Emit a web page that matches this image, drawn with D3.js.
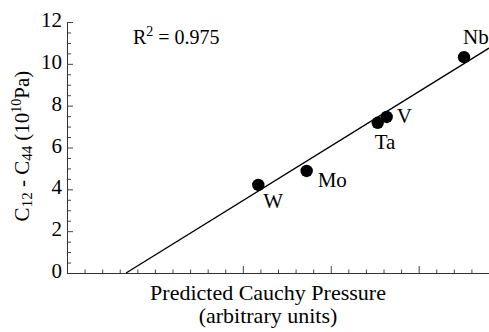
<!DOCTYPE html>
<html>
<head>
<meta charset="utf-8">
<script src="https://cdn.jsdelivr.net/npm/d3@7.9.0/dist/d3.min.js"></script>
<style>
  html, body { margin: 0; padding: 0; background: #fff; }
  svg text { font-family: "Liberation Serif", "Times New Roman", serif !important; fill: #000; }
  .tick line { stroke: #444; }
  .domain { stroke: #333; }
</style>
</head>
<body>
<svg width="489" height="332"></svg>
<script>
// metals and their values
const metals = ["Nb", "V", "Ta", "W", "Mo"];
const predicted = [2.258, 1.818, 1.767, 1.088, 1.363];   // arbitrary units
const c12MinusC44 = [10.32, 7.46, 7.18, 4.21, 4.88];    // 10^10 Pa

const yMajorTicks = [0, 2, 4, 6, 8, 10, 12];
const xMajorTicks = [1, 1.5, 2];
const fitSlope = 5.21;
const fitIntercept = -1.75;
const rSquared = "0.975";

// where each label sits relative to its dot
const labelOffset = {
  Nb: [-1, -13],
  V: [10, 6],
  Ta: [-3, 26],
  W: [5, 23],
  Mo: [11, 16]
};

const svg = d3.select("svg");

const x = d3.scaleLinear().domain([0, 2.4]).range([67, 489]);
const y = d3.scaleLinear().domain([0, 12]).range([273, 22]);

// y axis: minor then major ticks, pointing inward
svg.append("g")
  .attr("transform", `translate(${x(0)},0)`)
  .call(d3.axisLeft(y)
    .tickValues(d3.range(0, 12.01, 0.5).filter(v => v % 2 !== 0))
    .tickSize(-4).tickFormat(""))
  .call(g => g.select(".domain").remove());

svg.append("g")
  .attr("transform", `translate(${x(0)},0)`)
  .call(d3.axisLeft(y).tickValues(yMajorTicks).tickSize(-6).tickSizeOuter(0).tickPadding(5))
  .call(g => g.selectAll("text")
    .attr("font-size", 21)
    .attr("dy", "0.22em"));

// x axis
svg.append("g")
  .attr("transform", `translate(0,${y(0)})`)
  .call(d3.axisBottom(x)
    .tickValues(d3.range(0.1, 2.4, 0.1).filter(v => !xMajorTicks.some(m => Math.abs(m - v) < 1e-6)))
    .tickSize(-3.5).tickFormat(""))
  .call(g => g.select(".domain").remove());

svg.append("g")
  .attr("transform", `translate(0,${y(0)})`)
  .call(d3.axisBottom(x).tickValues(xMajorTicks).tickSize(-7).tickSizeOuter(0).tickFormat(""));

// fitted line
const xStart = -fitIntercept / fitSlope;
const xEnd = 2.4;
svg.append("line")
  .attr("x1", x(xStart)).attr("y1", y(fitSlope * xStart + fitIntercept))
  .attr("x2", x(xEnd)).attr("y2", y(fitSlope * xEnd + fitIntercept))
  .attr("stroke", "#000")
  .attr("stroke-width", 1.4);

// dots
const pts = metals.map((m, i) => ({ name: m, px: predicted[i], py: c12MinusC44[i] }));

svg.selectAll("circle.dot")
  .data(pts)
  .join("circle")
  .attr("class", "dot")
  .attr("cx", d => x(d.px))
  .attr("cy", d => y(d.py))
  .attr("r", 6.2)
  .attr("fill", "#000");

svg.selectAll("text.metal")
  .data(pts)
  .join("text")
  .attr("class", "metal")
  .attr("x", d => x(d.px) + labelOffset[d.name][0])
  .attr("y", d => y(d.py) + labelOffset[d.name][1])
  .attr("font-size", 21)
  .text(d => d.name);

// R^2 annotation
const r2 = svg.append("text")
  .attr("x", 133)
  .attr("y", 44)
  .attr("font-size", 20);
r2.append("tspan").text("R");
r2.append("tspan").attr("font-size", 14).attr("dy", -8).text("2");
r2.append("tspan").attr("dy", 8).text(" = " + rSquared);

// y axis title
const yt = svg.append("text")
  .attr("transform", "translate(29,146) rotate(-90)")
  .attr("text-anchor", "middle")
  .attr("font-size", 21);
yt.append("tspan").text("C");
yt.append("tspan").attr("font-size", 15).attr("dy", 3).text("12");
yt.append("tspan").attr("dy", -3).text(" - C");
yt.append("tspan").attr("font-size", 15).attr("dy", 3).text("44");
yt.append("tspan").attr("dy", -3).text(" (10");
yt.append("tspan").attr("font-size", 14).attr("dy", -8).text("10");
yt.append("tspan").attr("dy", 8).text("Pa)");

// x axis title
svg.append("text")
  .attr("x", 268).attr("y", 300)
  .attr("text-anchor", "middle")
  .attr("font-size", 22)
  .text("Predicted Cauchy Pressure");
svg.append("text")
  .attr("x", 268).attr("y", 323)
  .attr("text-anchor", "middle")
  .attr("font-size", 22)
  .text("(arbitrary units)");
</script>
</body>
</html>
